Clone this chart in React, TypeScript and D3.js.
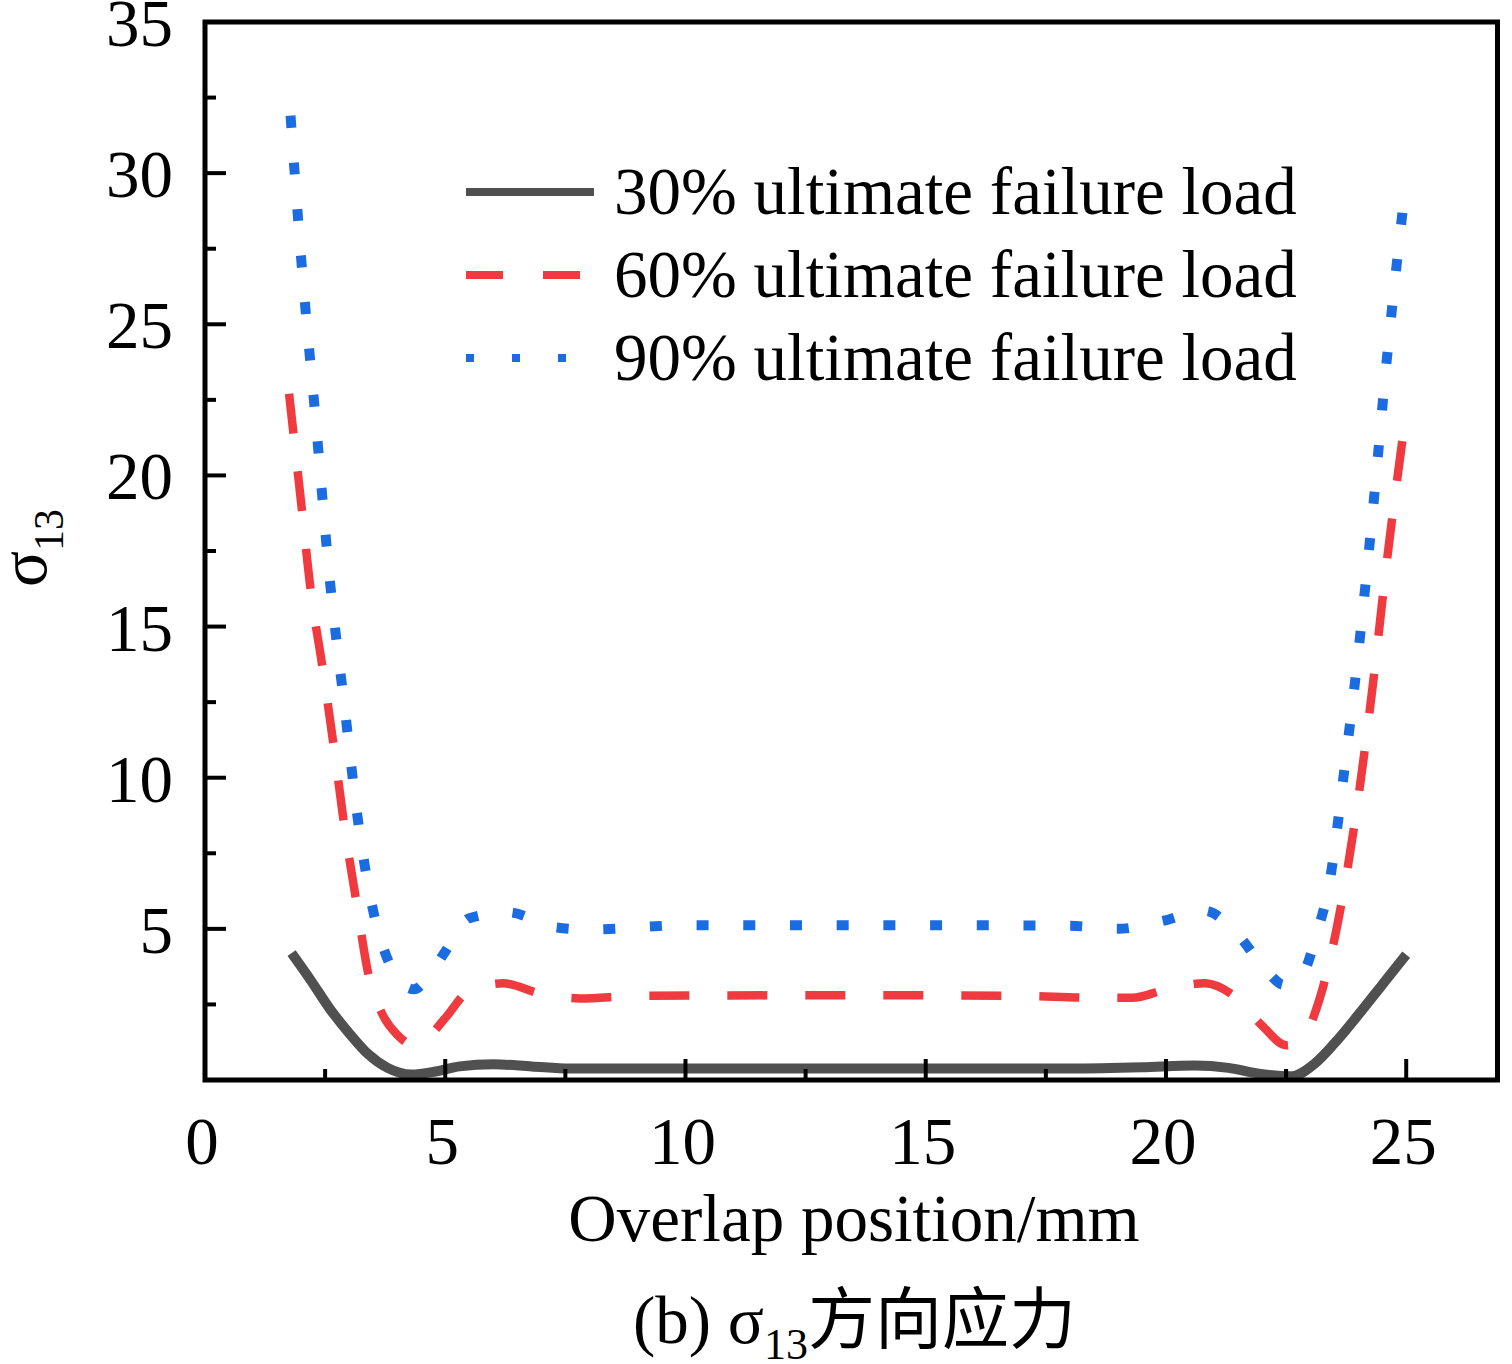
import { useEffect } from 'react';
import * as d3 from 'd3';

// 30% ultimate failure load
const x30 = [1.8, 2.2, 2.6, 3.0, 3.4, 3.8, 4.3, 4.8, 5.3, 6.0, 6.8, 7.6, 10, 15, 18, 19.5, 20.6, 21.3, 21.9, 22.6, 23.1, 23.5, 24.0, 24.5, 25.0];
const y30 = [4.2, 3.3, 2.35, 1.55, 0.85, 0.4, 0.18, 0.28, 0.45, 0.52, 0.45, 0.38, 0.38, 0.38, 0.38, 0.42, 0.48, 0.4, 0.22, 0.12, 0.55, 1.2, 2.15, 3.15, 4.15];

// 60% ultimate failure load
const x60 = [1.75, 2.0, 2.2, 2.45, 2.7, 2.9, 3.15, 3.4, 3.7, 4.0, 4.35, 4.7, 5.0, 5.5, 6.2, 7.0, 7.8, 9, 12, 15, 17, 18.5, 19.3, 20.0, 20.8, 21.4, 22.0, 22.5, 22.8, 23.2, 23.6, 24.0, 24.3, 24.6, 25.0];
const y60 = [22.7, 19.1, 16.2, 13.6, 10.8, 8.4, 5.9, 3.5, 2.15, 1.5, 1.15, 1.5, 2.05, 2.95, 3.2, 2.85, 2.7, 2.78, 2.8, 2.8, 2.78, 2.72, 2.72, 3.0, 3.2, 2.8, 1.8, 1.15, 1.3, 2.7, 5.4, 9.3, 13.0, 17.2, 22.1];

// 90% ultimate failure load
const x90 = [1.78, 2.0, 2.3, 2.6, 2.9, 3.2, 3.5, 3.75, 4.0, 4.35, 4.7, 5.0, 5.5, 6.3, 7.3, 8.0, 10, 15, 18, 19.0, 19.9, 20.8, 21.5, 22.1, 22.45, 22.8, 23.15, 23.4, 23.7, 24.0, 24.3, 24.6, 25.0];
const y90 = [31.9, 27.2, 21.9, 16.5, 12.4, 8.4, 5.6, 4.2, 3.4, 3.0, 3.55, 4.25, 5.35, 5.55, 5.05, 4.98, 5.12, 5.12, 5.1, 5.0, 5.25, 5.6, 4.8, 3.6, 3.15, 3.4, 4.9, 6.5, 10.1, 14.1, 18.75, 23.9, 29.8];

const legendLabels = ['30% ultimate failure load', '60% ultimate failure load', '90% ultimate failure load'];
const xTicks = [0, 5, 10, 15, 20, 25];
const xMinor = [2.5, 7.5, 12.5, 17.5, 22.5];
const yTicks = [5, 10, 15, 20, 25, 30, 35];
const yMinor = [2.5, 7.5, 12.5, 17.5, 22.5, 27.5, 32.5];

const serif = '"Liberation Serif", "Times New Roman", serif';
const cjk = '"Noto Sans CJK SC", sans-serif';

export default function App() {
    useEffect(() => {
        document.body.style.margin = '0';
    }, []);

    const width = 1512;
    const height = 1364;
    const left = 205, right = 1497.5, top = 22, bottom = 1080;

    const x = d3.scaleLinear().domain([0, 26.9]).range([left, right]);
    const y = d3.scaleLinear().domain([0, 35]).range([bottom, top]);

    const line = d3.line<[number, number]>()
        .x(d => x(d[0]))
        .y(d => y(d[1]))
        .curve(d3.curveMonotoneX);

    const zip = (xs: number[], ys: number[]) => xs.map((v, i) => [v, ys[i]] as [number, number]);

    const series = [
        { pts: zip(x30, y30), color: '#505050', width: 10, dash: undefined, legendDash: undefined },
        { pts: zip(x60, y60), color: '#ef3a3f', width: 8.5, dash: '40 38', legendDash: '37 40' },
        { pts: zip(x90, y90), color: '#1b6ce0', width: 10, dash: '12 34.7', legendDash: '8 38' },
    ];

    const legendBase = [214, 297, 380];

    return (
        <div style={{ position: 'absolute', left: 0, top: 0 }}>
            <svg width={width} height={height} style={{ display: 'block', background: '#fff' }}>
                {/* series */}
                {series.map((s, i) => (
                    <path key={i} d={line(s.pts) || ''} fill="none" stroke={s.color}
                        strokeWidth={s.width} strokeDasharray={s.dash} strokeLinejoin="round" />
                ))}

                {/* ticks, pointing inward */}
                {xTicks.map(t => (
                    <line key={'xt' + t} x1={x(t)} x2={x(t)} y1={bottom} y2={bottom - 21} stroke="#000" strokeWidth={4} />
                ))}
                {xMinor.map(t => (
                    <line key={'xm' + t} x1={x(t)} x2={x(t)} y1={bottom} y2={bottom - 11} stroke="#000" strokeWidth={4} />
                ))}
                {yTicks.map(t => (
                    <line key={'yt' + t} x1={left} x2={left + 21} y1={y(t)} y2={y(t)} stroke="#000" strokeWidth={4} />
                ))}
                {yMinor.map(t => (
                    <line key={'ym' + t} x1={left} x2={left + 11} y1={y(t)} y2={y(t)} stroke="#000" strokeWidth={4} />
                ))}

                {/* frame */}
                <rect x={left} y={top} width={right - left} height={bottom - top} fill="none" stroke="#000" strokeWidth={5} />

                {/* tick labels */}
                {xTicks.map(t => (
                    <text key={'xl' + t} x={x(t) - 3} y={1164} textAnchor="middle" fontFamily={serif} fontSize={67}>{t}</text>
                ))}
                {yTicks.map(t => (
                    <text key={'yl' + t} x={173} y={y(t) + 24} textAnchor="end" fontFamily={serif} fontSize={67}>{t}</text>
                ))}

                {/* legend */}
                {series.map((s, i) => (
                    <g key={'lg' + i}>
                        <line x1={466} x2={594} y1={legendBase[i] - 22} y2={legendBase[i] - 22}
                            stroke={s.color} strokeWidth={8} strokeDasharray={s.legendDash} />
                        <text x={614} y={legendBase[i]} fontFamily={serif} fontSize={67}>{legendLabels[i]}</text>
                    </g>
                ))}

                {/* axis titles */}
                <text x={854} y={1241} textAnchor="middle" fontFamily={serif} fontSize={67}>Overlap position/mm</text>
                <text transform="translate(46,548) rotate(-90)" textAnchor="middle" fontFamily={serif} fontSize={67}>
                    σ<tspan fontSize={42} dy={17}>13</tspan>
                </text>

                {/* caption */}
                <text x={633} y={1343} fontFamily={serif} fontSize={67}>
                    (b) σ<tspan fontSize={44} dy={16}>13</tspan>
                    <tspan fontFamily={cjk} dy={-16}>方向应力</tspan>
                </text>
            </svg>
        </div>
    );
}
